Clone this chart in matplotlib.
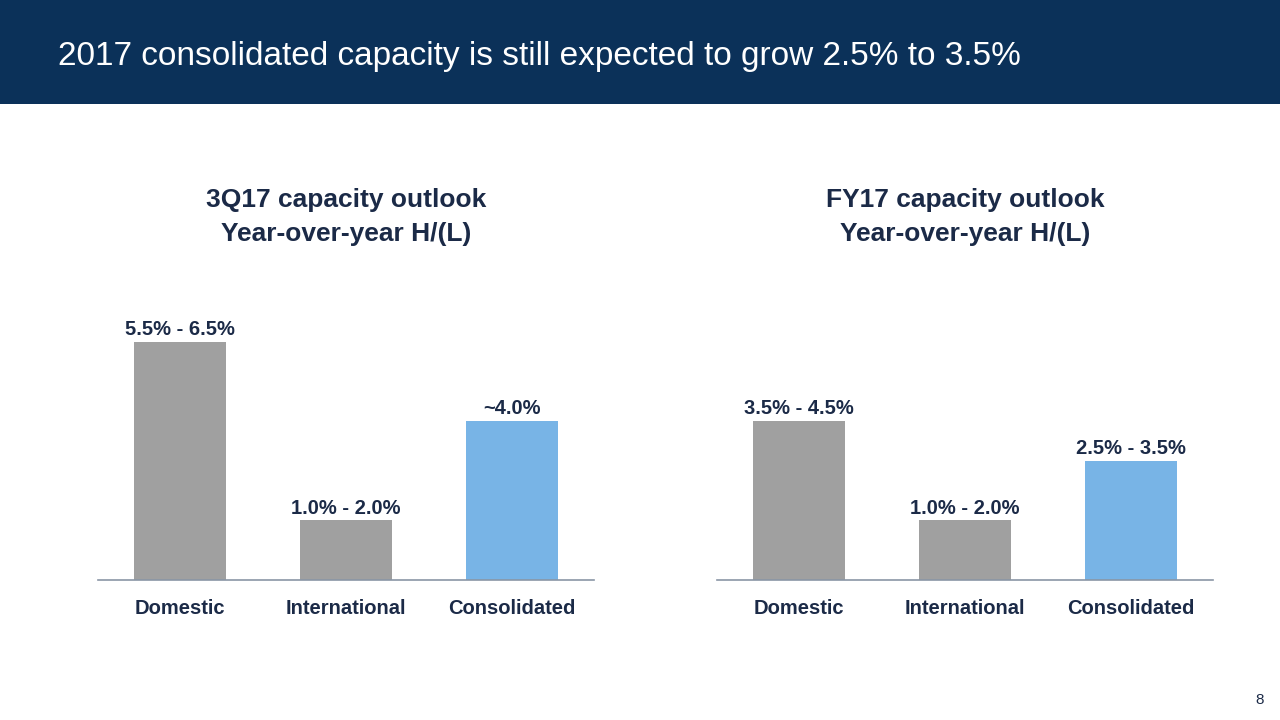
import matplotlib
matplotlib.use("Agg")
import matplotlib.pyplot as plt
from matplotlib.patches import Rectangle

plt.rcParams['font.family'] = ['Liberation Sans', 'DejaVu Sans']

categories = ["Domestic", "International", "Consolidated"]
# midpoints of the guidance ranges (% year-over-year)
q3_values = [6.0, 1.5, 4.0]
q3_labels = ["5.5% - 6.5%", "1.0% - 2.0%", "~4.0%"]
fy_values = [4.0, 1.5, 3.0]
fy_labels = ["3.5% - 4.5%", "1.0% - 2.0%", "2.5% - 3.5%"]
titles = ["3Q17 capacity outlook\nYear-over-year H/(L)",
          "FY17 capacity outlook\nYear-over-year H/(L)"]

navy = "#0b3159"
text_navy = "#1b2a47"
grey = "#a0a0a0"
blue = "#78b4e6"
colors = [grey, grey, blue]

W, H = 1280, 720
fig = plt.figure(figsize=(12.8, 7.2), dpi=100)
fig.patch.set_facecolor("white")

# header band
fig.add_artist(Rectangle((0, 1 - 104 / H), 1, 104 / H, transform=fig.transFigure,
                         facecolor=navy, edgecolor="none"))
fig.text(58 / W, 1 - 56 / H, "2017 consolidated capacity is still expected to grow 2.5% to 3.5%",
         color="white", fontsize=24, ha="left", va="center")

def panel(left_px, values, labels, title):
    ax = fig.add_axes([left_px / W, 1 - 580 / H, 496 / W, 280 / H])
    x = range(len(categories))
    ax.bar(x, values, width=0.554, color=colors, zorder=2)
    ax.set_xlim(-0.494, 2.494)
    ax.set_ylim(0, 280 / 39.75)
    for xi, v, lab in zip(x, values, labels):
        ax.annotate(lab, (xi, v), xytext=(0, 2), textcoords="offset points",
                    ha="center", va="bottom", fontsize=14.5, fontweight="bold", color=text_navy)
    ax.set_xticks(list(x))
    ax.set_xticklabels(categories, fontsize=14.5, fontweight="bold", color=text_navy)
    ax.tick_params(axis="x", length=0, pad=14)
    ax.set_yticks([])
    for s in ["top", "right", "left"]:
        ax.spines[s].set_visible(False)
    ax.spines["bottom"].set_color("#8a96a6")
    ax.spines["bottom"].set_linewidth(1.2)
    ax.patch.set_alpha(0)
    fig.text((left_px + 248) / W, 1 - 217 / H, title, ha="center", va="center",
             fontsize=19, fontweight="bold", color=text_navy, linespacing=1.5)

panel(98, q3_values, q3_labels, titles[0])
panel(717, fy_values, fy_labels, titles[1])

fig.text(1260 / W, 1 - 700 / H, "8", fontsize=11, color=text_navy, ha="center", va="center")

fig.savefig("out.png", dpi=100)
